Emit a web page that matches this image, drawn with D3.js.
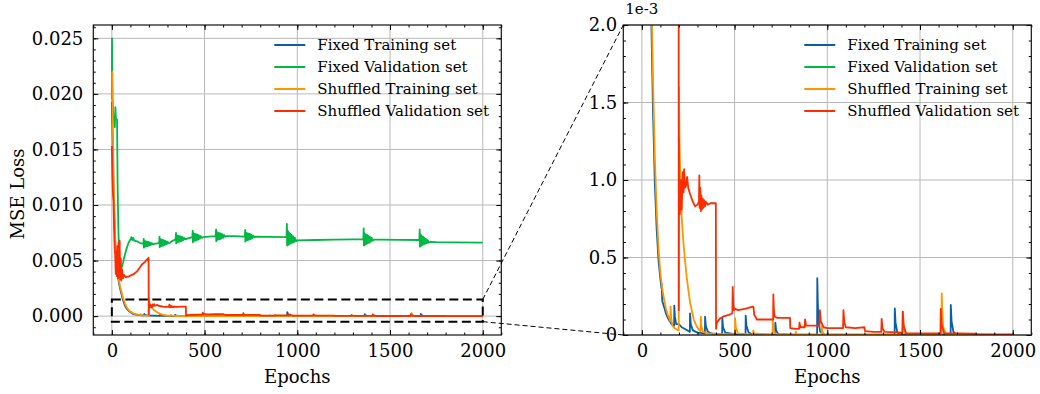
<!DOCTYPE html>
<html>
<head>
<meta charset="utf-8">
<script src="https://cdn.jsdelivr.net/npm/d3@7"></script>
<style>
  body { margin: 0; background: #fff; }
  text { font-family: "DejaVu Serif", serif; }
</style>
</head>
<body>
<svg id="chart" width="1040" height="394"></svg>
<script>
// [epoch, MSE loss in units of 1e-3]
const fixedTrain = [
  [0,19.3],[3,17],[6,14],[10,11],[15,8],[20,6],[25,4.8],[30,3.9],[40,2.8],[50,2.1],[60,1.45],[70,0.98],
  [80,0.68],[90,0.48],[100,0.36],[106,0.3],[107,0.33],[110,0.22],[120,0.18],[130,0.14],[140,0.11],
  [150,0.09],[160,0.07],[174,0.06],[175,0.19],[178,0.12],[185,0.07],[200,0.07],[215,0.05],[230,0.04],
  [259,0.02],[260,0.14],[264,0.07],[275,0.03],[300,0.015],[340,0.01],[341,0.118],[345,0.06],[356,0.02],
  [380,0.008],[433,0.005],[434,0.11],[438,0.05],[450,0.015],[500,0.005],[559,0.003],[560,0.125],
  [564,0.06],[576,0.015],[600,0.003],[718,0.002],[720,0.08],[724,0.03],[735,0.005],[800,0.002],
  [945,0.002],[946,0.366],[949,0.2],[953,0.08],[962,0.02],[980,0.003],[1100,0.002],[1363,0.002],
  [1364,0.172],[1368,0.08],[1378,0.015],[1400,0.002],[1665,0.002],[1666,0.194],[1670,0.09],[1680,0.02],
  [1700,0.002],[2000,0.001]
];

const fixedVal = [
  [0,19.5],[1,25],[2,22],[4,19.5],[8,18],[12,17.5],[16,17],[19,18.8],[22,17.8],[25,17.7],[28,17.7],
  [31,12],[35,8],[40,5],[43,4.0],[46,4.6],[50,4.2],[55,4.5],[60,4.8],[70,5.5],[80,6.1],[90,6.6],
  [100,6.9],[105,7.1],[110,6.85],[115,7.05],[120,6.8],[130,6.75],[140,6.7],[150,6.6],[170,6.5],
  [172,6.95],[173,6.16],[175,6.79],[177,6.23],[179,6.75],[181,6.25],[184,6.73],[187,6.28],[190,6.7],
  [193,6.3],[197,6.68],[201,6.34],[205,6.64],[210,6.39],[215,6.58],[221,6.46],[228,6.5],[245,6.55],[255,6.6],
  [257,7.15],[258,6.19],[260,6.96],[262,6.27],[264,6.9],[266,6.3],[269,6.88],[272,6.33],[275,6.85],
  [278,6.35],[282,6.82],[286,6.41],[290,6.77],[295,6.46],[300,6.7],[306,6.55],[313,6.6],[330,6.8],[344,6.9],
  [346,7.5],[347,6.54],[349,7.31],[351,6.62],[353,7.25],[355,6.65],[358,7.23],[361,6.68],[364,7.2],
  [367,6.7],[371,7.17],[375,6.76],[379,7.12],[384,6.81],[389,7.05],[395,6.9],[402,6.95],[420,7.05],[434,7.1],
  [436,7.7],[437,6.65],[439,7.49],[441,6.74],[443,7.43],[445,6.77],[448,7.4],[451,6.8],[454,7.37],
  [457,6.83],[461,7.34],[465,6.89],[469,7.28],[474,6.95],[479,7.21],[485,7.04],[492,7.1],[520,7.15],[560,7.2],
  [562,7.8],[563,6.75],[565,7.59],[567,6.84],[569,7.53],[571,6.87],[574,7.5],[577,6.9],[580,7.47],
  [583,6.93],[587,7.44],[591,6.99],[595,7.38],[600,7.05],[605,7.31],[611,7.14],[618,7.2],[660,7.2],[717,7.15],
  [719,7.75],[720,6.7],[722,7.54],[724,6.79],[726,7.48],[728,6.82],[731,7.45],[734,6.85],[737,7.42],
  [740,6.88],[744,7.39],[748,6.94],[752,7.33],[757,7.0],[762,7.26],[768,7.09],[775,7.15],[850,7.13],[942,7.1],
  [944,8.3],[945,6.35],[947,7.75],[949,6.4],[951,7.6],[953,6.45],[956,7.5],[959,6.5],[962,7.4],
  [965,6.55],[969,7.3],[973,6.6],[977,7.2],[982,6.65],[987,7.05],[993,6.75],[1000,6.82],[1100,6.85],
  [1200,6.88],[1300,6.9],[1356,6.9],
  [1358,7.9],[1359,6.35],[1361,7.5],[1363,6.4],[1365,7.4],[1367,6.45],[1370,7.35],[1373,6.5],[1376,7.3],
  [1379,6.55],[1383,7.25],[1387,6.6],[1391,7.15],[1396,6.68],[1401,7.05],[1407,6.8],[1414,6.88],
  [1450,6.88],[1550,6.87],[1658,6.85],
  [1660,7.8],[1661,6.25],[1663,7.4],[1665,6.3],[1667,7.3],[1669,6.35],[1672,7.2],[1675,6.4],[1678,7.15],
  [1681,6.45],[1685,7.05],[1689,6.5],[1693,6.95],[1698,6.55],[1703,6.85],[1709,6.6],[1716,6.68],
  [1750,6.65],[1850,6.63],[2000,6.62]
];

const shuffledTrain = [
  [0,22],[2,22],[4,18.8],[8,14],[12,10.5],[16,8],[20,6.3],[25,5],[30,4.1],[40,3],[50,2.3],[60,1.65],
  [70,1.15],[80,0.8],[90,0.56],[100,0.4],[110,0.3],[120,0.23],[130,0.17],[140,0.13],[154,0.09],
  [155,0.183],[158,0.11],[165,0.06],[180,0.04],[199,0.03],[200,1.6],[203,1.25],[208,1.0],[215,0.76],
  [224,0.6],[233,0.48],[242,0.37],[251,0.29],[260,0.21],[269,0.16],[280,0.1],[296,0.054],[310,0.03],
  [317,0.025],[318,0.118],[321,0.06],[330,0.02],[360,0.01],[430,0.005],[502,0.005],[503,0.108],
  [507,0.05],[518,0.01],[600,0.003],[601,0.03],[604,0.01],[705,0.003],[706,0.1],[710,0.04],[720,0.005],
  [829,0.003],[830,0.02],[835,0.003],[969,0.003],[970,0.06],[974,0.02],[985,0.003],[1406,0.002],
  [1407,0.15],[1411,0.07],[1420,0.01],[1450,0.002],[1616,0.002],[1617,0.269],[1620,0.15],[1625,0.05],
  [1640,0.005],[2000,0.001]
];

const shuffledVal = [
  [0,15.3],[3,12.5],[6,11],[9,10.4],[12,8],[15,6.2],[18,5.5],[21,3.8],[24,5.8],[27,3.6],[30,6.3],
  [33,3.4],[36,6.6],[39,3.5],[42,6.8],[45,3.3],[48,5.2],[51,3.2],[55,4.2],[60,3.4],[66,3.7],[75,3.5],
  [90,3.55],[100,3.65],[120,3.8],[140,4.1],[160,4.6],[180,4.9],[198,5.25],[199,0.16],[200,1.27],
  [201,0.8],[205,0.78],[210,1.0],[215,0.81],[220,1.05],[225,0.92],[228,1.07],[232,0.95],[238,0.96],
  [244,1.02],[250,0.95],[260,0.91],[275,0.86],[287,0.83],[300,0.84],[308,0.86],[310,1.03],[312,0.82],
  [315,0.95],[318,0.8],[321,0.9],[324,0.81],[328,0.88],[332,0.82],[336,0.87],[340,0.83],[345,0.86],
  [355,0.84],[370,0.85],[399,0.85],[400,0.04],[404,0.075],[410,0.09],[422,0.107],[440,0.12],
  [470,0.13],[488,0.14],[490,0.31],[493,0.2],[497,0.16],[500,0.17],[520,0.16],[560,0.17],[598,0.183],
  [602,0.18],[606,0.13],[612,0.12],[620,0.1],[650,0.1],[708,0.1],[709,0.262],[712,0.16],[716,0.12],
  [730,0.11],[760,0.11],[799,0.11],[800,0.045],[830,0.04],[848,0.04],[850,0.08],[855,0.05],[878,0.05],
  [880,0.1],[886,0.06],[910,0.06],[958,0.06],[960,0.16],[965,0.09],[980,0.05],[1000,0.045],[1085,0.045],
  [1087,0.16],[1092,0.08],[1100,0.05],[1150,0.045],[1200,0.05],[1203,0.025],[1250,0.02],[1291,0.02],
  [1293,0.104],[1298,0.04],[1310,0.02],[1405,0.015],[1407,0.15],[1412,0.06],[1425,0.01],[1500,0.01],
  [1610,0.01],[1612,0.168],[1616,0.07],[1630,0.01],[1700,0.01],[1800,0.008],[1802,0.004],[2000,0.004]
];

const seriesNames = ['Fixed Training set', 'Fixed Validation set', 'Shuffled Training set', 'Shuffled Validation set'];
const seriesData = [fixedTrain, fixedVal, shuffledTrain, shuffledVal];
const seriesColors = ['#0C5DA5', '#00B945', '#FF9500', '#FF2C00'];

const xTicks = [0, 500, 1000, 1500, 2000];
const leftYTicks = [0, 5, 10, 15, 20, 25];
const leftYLabels = ['0.000', '0.005', '0.010', '0.015', '0.020', '0.025'];
const rightYTicks = [0, 0.5, 1, 1.5, 2];
const rightYLabels = ['0', '0.5', '1.0', '1.5', '2.0'];
const zoomBox = { x0: 0, x1: 2000, y0: -0.5, y1: 1.5 };

const W = 408, H = 310;
const svg = d3.select('#chart');

const panels = [
  { left: 93.3, top: 25, yDomain: [-1.7, 26.2], yTicks: leftYTicks, yLabels: leftYLabels,
    yMinor: d3.range(-1, 27, 1), pad: 10, id: 'clipL' },
  { left: 623.3, top: 25, yDomain: [0, 2], yTicks: rightYTicks, yLabels: rightYLabels,
    yMinor: d3.range(0, 2.05, 0.1), pad: 6, id: 'clipR' },
];

const styleAxis = (g) => {
  g.select('.domain').remove();
  g.selectAll('line').attr('stroke', '#000').attr('stroke-width', 1);
  g.selectAll('text')
    .attr('font-family', '"DejaVu Serif", serif')
    .attr('font-size', 18)
    .attr('fill', '#000');
};

panels.forEach((p) => {
  const x = d3.scaleLinear().domain([-100, 2100]).range([0, W]);
  const y = d3.scaleLinear().domain(p.yDomain).range([H, 0]);
  p.x = x;
  p.y = y;

  const g = svg.append('g').attr('transform', `translate(${p.left},${p.top})`);

  g.append('clipPath').attr('id', p.id)
    .append('rect').attr('width', W).attr('height', H);

  // grid
  g.append('g').selectAll('line').data(xTicks).join('line')
    .attr('x1', (d) => x(d)).attr('x2', (d) => x(d))
    .attr('y1', 0).attr('y2', H)
    .attr('stroke', '#b8b8b8').attr('stroke-width', 1);
  g.append('g').selectAll('line').data(p.yTicks).join('line')
    .attr('x1', 0).attr('x2', W)
    .attr('y1', (d) => y(d)).attr('y2', (d) => y(d))
    .attr('stroke', '#b8b8b8').attr('stroke-width', 1);

  // series
  const line = d3.line().x((d) => x(d[0])).y((d) => y(d[1]));
  g.append('g').attr('clip-path', `url(#${p.id})`)
    .selectAll('path').data(seriesData).join('path')
    .attr('d', line)
    .attr('fill', 'none')
    .attr('stroke', (d, i) => seriesColors[i])
    .attr('stroke-width', 1.8)
    .attr('stroke-linejoin', 'round');

  // axes with inward ticks on all sides
  const xMinor = d3.range(-100, 2101, 100);
  g.append('g').attr('transform', `translate(0,${H})`)
    .call(d3.axisBottom(x).tickValues(xMinor).tickSize(-2.5).tickFormat('')).call(styleAxis);
  g.append('g').attr('transform', `translate(0,${H})`)
    .call(d3.axisBottom(x).tickValues(xTicks).tickSize(-5).tickPadding(9).tickFormat(d3.format('d')))
    .call(styleAxis);
  g.append('g')
    .call(d3.axisTop(x).tickValues(xMinor).tickSize(-2.5).tickFormat('')).call(styleAxis);
  g.append('g')
    .call(d3.axisTop(x).tickValues(xTicks).tickSize(-5).tickFormat('')).call(styleAxis);

  g.append('g')
    .call(d3.axisLeft(y).tickValues(p.yMinor).tickSize(-2.5).tickFormat('')).call(styleAxis);
  g.append('g')
    .call(d3.axisLeft(y).tickValues(p.yTicks).tickSize(-5).tickPadding(p.pad)
      .tickFormat((d, i) => p.yLabels[i]))
    .call(styleAxis);
  g.append('g').attr('transform', `translate(${W},0)`)
    .call(d3.axisRight(y).tickValues(p.yMinor).tickSize(-2.5).tickFormat('')).call(styleAxis);
  g.append('g').attr('transform', `translate(${W},0)`)
    .call(d3.axisRight(y).tickValues(p.yTicks).tickSize(-5).tickFormat('')).call(styleAxis);

  g.append('rect')
    .attr('width', W).attr('height', H)
    .attr('fill', 'none').attr('stroke', '#111').attr('stroke-width', 1.2);

  // legend
  const leg = g.append('g').selectAll('g').data(seriesNames).join('g')
    .attr('transform', (d, i) => `translate(181,${20 + i * 22})`);
  leg.append('line')
    .attr('x1', 0).attr('x2', 31)
    .attr('stroke', (d, i) => seriesColors[i]).attr('stroke-width', 2);
  leg.append('text')
    .attr('x', 43).attr('y', 5)
    .attr('font-size', 15)
    .text((d) => d);

  g.append('text')
    .attr('x', W / 2).attr('y', 357.7)
    .attr('text-anchor', 'middle')
    .attr('font-size', 18)
    .text('Epochs');
});

const L = panels[0], R = panels[1];

svg.append('text')
  .attr('transform', `translate(23.5,${L.top + H / 2 + 14}) rotate(-90)`)
  .attr('text-anchor', 'middle')
  .attr('font-size', 18)
  .text('MSE Loss');

svg.append('text')
  .attr('x', R.left + 2).attr('y', 14)
  .attr('font-family', '"DejaVu Sans", sans-serif')
  .attr('font-size', 15)
  .text('1e-3');

// zoom box on the left panel and the connectors to the right panel
const bx0 = L.left + L.x(zoomBox.x0), bx1 = L.left + L.x(zoomBox.x1);
const byTop = L.top + L.y(zoomBox.y1), byBot = L.top + L.y(zoomBox.y0);

svg.append('rect')
  .attr('x', bx0).attr('y', byTop)
  .attr('width', bx1 - bx0).attr('height', byBot - byTop)
  .attr('fill', 'none')
  .attr('stroke', '#000').attr('stroke-width', 2)
  .attr('stroke-dasharray', '9,4.5');

svg.append('line')
  .attr('x1', bx1).attr('y1', byTop)
  .attr('x2', R.left).attr('y2', R.top)
  .attr('stroke', '#000').attr('stroke-width', 1)
  .attr('stroke-dasharray', '5,3');

svg.append('line')
  .attr('x1', bx1).attr('y1', byBot)
  .attr('x2', R.left).attr('y2', R.top + H)
  .attr('stroke', '#000').attr('stroke-width', 1)
  .attr('stroke-dasharray', '5,3');
</script>
</body>
</html>
